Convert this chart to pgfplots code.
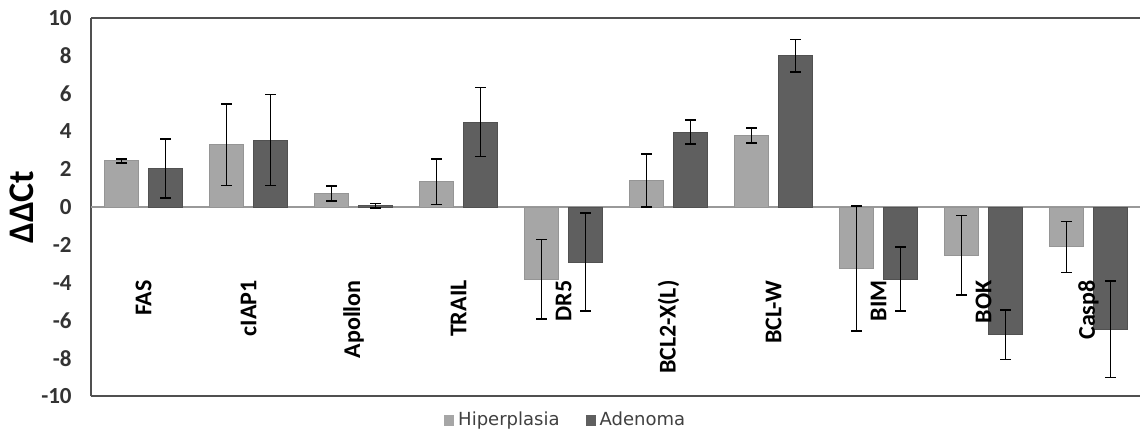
\documentclass[border=0pt]{standalone}
\usepackage{pgfplots}
\pgfplotsset{compat=1.18}
\usepackage{fontspec}
\setmainfont{Carlito}
\newfontfamily\legfont{DejaVu Sans}
\definecolor{hip}{HTML}{A6A6A6}
\definecolor{ade}{HTML}{5F5F5F}
\definecolor{frame}{HTML}{505050}

\begin{document}
\begin{tikzpicture}
\begin{axis}[
    scale only axis,
    width=524.5pt, height=189pt,
    xmin=-0.5, xmax=9.5,
    ymin=-10, ymax=10,
    ybar=5pt, bar width=17pt,
    separate axis lines,
    axis x line*=box, axis y line*=left,
    axis line style={frame, line width=1pt},
    xtick=\empty,
    ytick={-10,-8,...,10},
    yticklabels={-10,-8,-6,-4,-2,0,2,4,6,8,10},
    major tick length=0pt,
    yticklabel style={font=\bfseries\fontsize{11.5}{12}\selectfont, text=black!80, inner sep=0pt, xshift=-9.5pt},
    ylabel={\bfseries ΔΔCt},
    ylabel style={font=\fontsize{18}{19}\selectfont, at={(axis description cs:-0.066,0.5)}, anchor=center},
    extra y ticks={0},
    extra y tick labels={},
    extra y tick style={grid=major, major grid style={black!40, line width=0.8pt}},
    legend columns=2,
    legend style={draw=none, fill=none, at={(axis description cs:0.453,-0.064)}, anchor=center,
        font=\legfont\fontsize{9}{10}\selectfont, text=black!75,
        /tikz/every even column/.append style={column sep=11pt}},
    legend image code/.code={\fill[#1,draw=none] (0pt,-2.6pt) rectangle (5pt,2.6pt);},
    error bars/error bar style={black, line width=0.8pt},
    error bars/error mark options={rotate=90, mark size=2.6pt, black, line width=0.8pt},
]
\addplot[fill=hip, draw=hip!90!black,
    error bars/.cd, y dir=both, y explicit] coordinates {
    (0,2.45) +- (0,0.1)
    (1,3.3) +- (0,2.15)
    (2,0.72) +- (0,0.4)
    (3,1.34) +- (0,1.2)
    (4,-3.8) +- (0,2.1)
    (5,1.4) +- (0,1.4)
    (6,3.8) +- (0,0.4)
    (7,-3.25) +- (0,3.3)
    (8,-2.55) +- (0,2.1)
    (9,-2.1) +- (0,1.35)
};
\addlegendentry{Hiperplasia}
\addplot[fill=ade, draw=ade!85!black,
    error bars/.cd, y dir=both, y explicit] coordinates {
    (0,2.05) +- (0,1.55)
    (1,3.55) +- (0,2.4)
    (2,0.08) +- (0,0.12)
    (3,4.5) +- (0,1.83)
    (4,-2.9) +- (0,2.58)
    (5,3.97) +- (0,0.63)
    (6,8.0) +- (0,0.87)
    (7,-3.8) +- (0,1.68)
    (8,-6.75) +- (0,1.3)
    (9,-6.45) +- (0,2.56)
};
\addlegendentry{Adenoma}
% category names sit inside the plot, rotated
\foreach \i/\n in {0/FAS,1/cIAP1,2/Apollon,3/TRAIL,4/DR5,5/BCL2-X(L),6/BCL-W,7/BIM,8/BOK,9/Casp8}{
    \edef\tmp{\noexpand\node[rotate=90, anchor=east, inner sep=0pt,
        font=\noexpand\bfseries\noexpand\fontsize{12}{13}\noexpand\selectfont]
        at (axis cs:\i,-3.85) {\n};}
    \tmp
}
\end{axis}
\pgfresetboundingbox
\useasboundingbox (-45.5pt,-17.5pt) rectangle (524pt,198pt);
\end{tikzpicture}
\end{document}
